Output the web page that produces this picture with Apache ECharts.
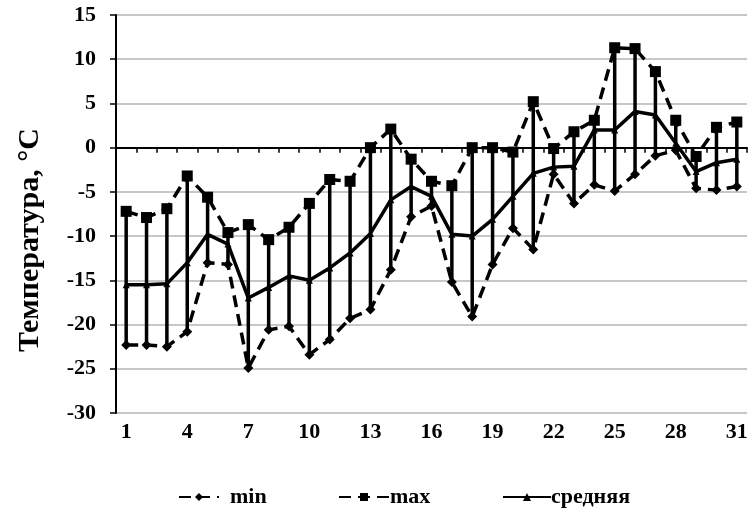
<!DOCTYPE html>
<html><head><meta charset="utf-8">
<script src="https://cdn.jsdelivr.net/npm/echarts@6/dist/echarts.min.js"></script>
<style>html,body{margin:0;padding:0;background:#fff}#c{width:752px;height:519px}</style>
</head><body><div id="c"></div>
<script>
const days = ['1','2','3','4','5','6','7','8','9','10','11','12','13','14','15','16','17','18','19','20','21','22','23','24','25','26','27','28','29','30','31'];
const minT = [-22.3,-22.3,-22.5,-20.8,-13.0,-13.2,-24.9,-20.6,-20.2,-23.4,-21.7,-19.3,-18.3,-13.8,-7.8,-6.6,-15.2,-19.1,-13.2,-9.1,-11.5,-3.0,-6.3,-4.2,-4.9,-3.0,-0.9,-0.3,-4.6,-4.8,-4.4];
const maxT = [-7.2,-7.9,-6.9,-3.2,-5.6,-9.6,-8.7,-10.4,-9.0,-6.3,-3.6,-3.8,0.0,2.1,-1.3,-3.8,-4.3,0.0,0.0,-0.5,5.2,-0.1,1.8,3.1,11.3,11.2,8.6,3.1,-1.0,2.3,2.9];
const meanT = [-15.5,-15.5,-15.4,-13.0,-9.8,-10.9,-17.0,-15.8,-14.5,-15.0,-13.6,-11.9,-9.7,-5.9,-4.4,-5.5,-9.8,-10.0,-8.1,-5.5,-2.9,-2.2,-2.1,2.0,2.0,4.1,3.7,0.5,-2.7,-1.7,-1.3];
const yTicks = {min:-30, max:15, interval:5};
const yTitle = 'Температура, °С';

const serif = '"Liberation Serif","Times New Roman",serif';
const chart = echarts.init(document.getElementById('c'), null, {renderer:'canvas'});
const barData = days.map((d,i)=>[i, minT[i], maxT[i]]);
const lblStyle = {fontFamily:serif,fontWeight:'bold',fontSize:22,color:'#000'};
chart.setOption({
  animation:false,
  backgroundColor:'#fff',
  grid:{left:116,right:5,top:15,bottom:106,containLabel:false},
  graphic:[{type:'text',rotation:Math.PI/2,x:30,y:240,
    style:{text:yTitle,font:'bold 30px '+serif,fill:'#000',textAlign:'center',textVerticalAlign:'middle'}}],
  legend:[
    {data:['min'],left:173,top:481,itemWidth:40,itemHeight:10,
      textStyle:Object.assign({padding:[0,0,0,6]},lblStyle)},
    {data:['max'],left:333,top:481,itemWidth:50,itemHeight:10,
      textStyle:Object.assign({padding:[0,0,0,-4]},lblStyle)},
    {data:['средняя'],left:497,top:481,itemWidth:48,itemHeight:10,
      textStyle:Object.assign({padding:[0,0,0,-5]},lblStyle)}
  ],
  xAxis:{type:'category',data:days,boundaryGap:true,
    axisLine:{lineStyle:{color:'#000',width:2}},
    axisTick:{show:true,interval:0,length:5,lineStyle:{color:'#000',width:1.5}},
    axisLabel:Object.assign({interval:2,margin:8},lblStyle),
    splitLine:{show:false}},
  yAxis:{type:'value',min:yTicks.min,max:yTicks.max,interval:yTicks.interval,
    axisLine:{show:true,lineStyle:{color:'#000',width:2}},
    axisTick:{show:true,length:6,lineStyle:{color:'#000',width:1.5}},
    axisLabel:Object.assign({margin:20},lblStyle),
    splitLine:{lineStyle:{color:'#b4b4b4',width:1.5}}},
  series:[
    {name:'range',type:'custom',data:barData,z:3,
      renderItem:function(params,api){
        const p1=api.coord([api.value(0),api.value(1)]);
        const p2=api.coord([api.value(0),api.value(2)]);
        return {type:'line',shape:{x1:p1[0],y1:p1[1],x2:p2[0],y2:p2[1]},style:{stroke:'#000',lineWidth:3.5}};
      },encode:{x:0,y:[1,2]}},
    {name:'min',type:'line',data:minT,symbol:'diamond',symbolSize:10,z:4,
      lineStyle:{color:'#000',width:3.5,type:[12,7]},itemStyle:{color:'#000'}},
    {name:'max',type:'line',data:maxT,symbol:'rect',symbolSize:11,z:4,
      lineStyle:{color:'#000',width:3.5,type:[12,7]},itemStyle:{color:'#000'}},
    {name:'средняя',type:'line',data:meanT,symbol:'triangle',symbolSize:7,z:5,
      lineStyle:{color:'#000',width:3.5},itemStyle:{color:'#000'}}
  ]
});
</script></body></html>
